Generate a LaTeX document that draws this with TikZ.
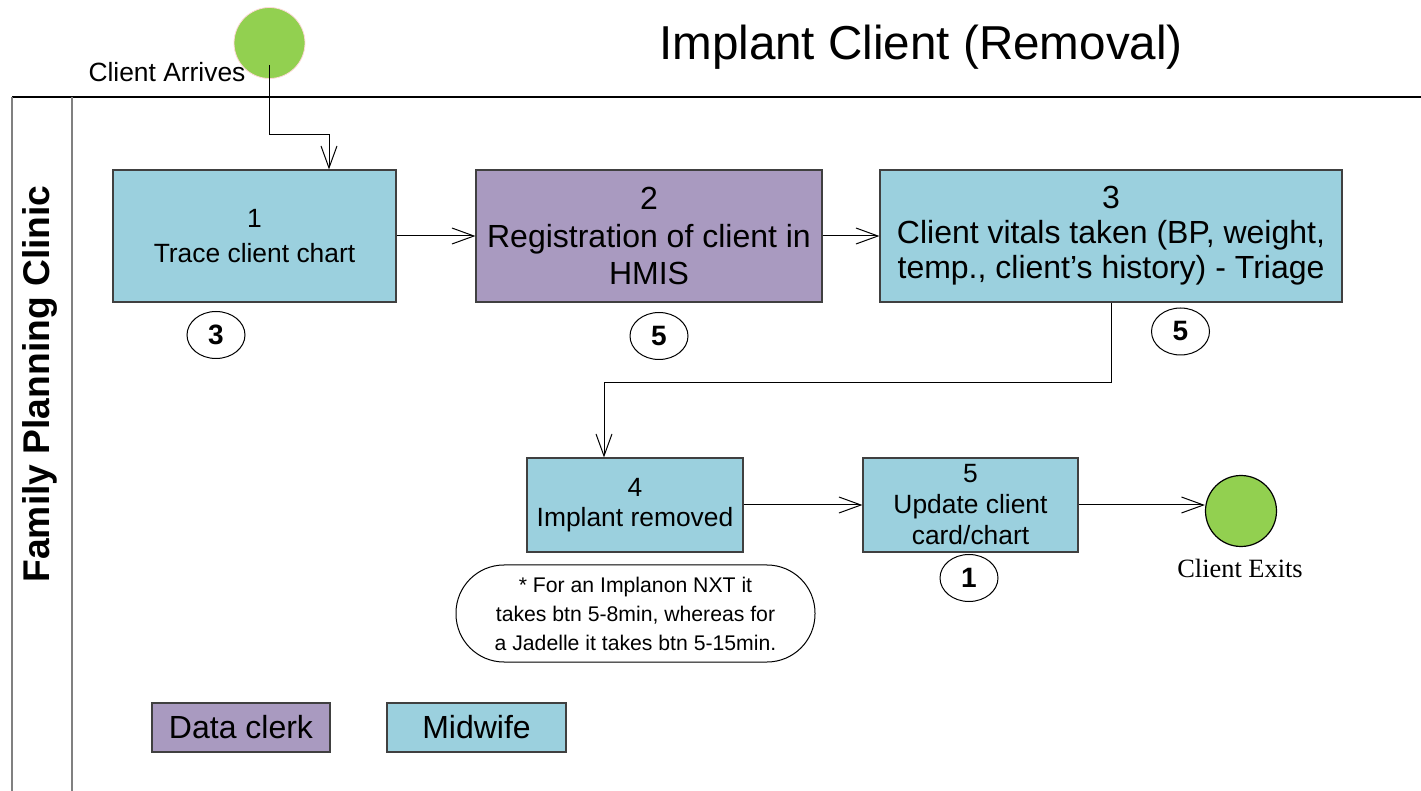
\documentclass[tikz,border=0pt]{standalone}
\usepackage{fontspec}
\setmainfont{Liberation Sans}
\newfontfamily\timesfont{Liberation Serif}
\usetikzlibrary{arrows.meta, shapes.geometric}

\definecolor{midwifeblue}{HTML}{9BD0DE}
\definecolor{clerkpurple}{HTML}{A99AC0}
\definecolor{termgreen}{HTML}{92D050}
\definecolor{laneline}{HTML}{808080}

\tikzset{
    task/.style={draw=black!75, line width=0.6pt, align=center, inner sep=2pt},
    midwife/.style={task, fill=midwifeblue},
    clerk/.style={task, fill=clerkpurple},
    smalltext/.style={font=\fontsize{13.2}{16}\selectfont},
    bigtext/.style={font=\fontsize{16}{18.8}\selectfont},
    badge/.style={ellipse, draw, fill=white, line width=0.5pt, minimum width=29pt,
        minimum height=23.5pt, inner sep=0pt, font=\fontsize{14}{16}\selectfont\bfseries},
    terminal/.style={circle, fill=termgreen, minimum size=35.5pt, inner sep=0pt},
    flow/.style={-{Straight Barb[length=11pt,width=8pt]}, line width=0.5pt},
}

\begin{document}
\begin{tikzpicture}[x=0.5pt, y=-0.5pt]
    \useasboundingbox (0,0) rectangle (1421,791);

    % Swim lane
    \draw[line width=0.6pt] (12,97) -- (1421,97);
    \draw[laneline, line width=0.8pt] (12,97) -- (12,791) (72,97) -- (72,791);
    \node[rotate=90, font=\fontsize{18.6}{22}\selectfont\bfseries] (lane) at (40,384) {Family Planning Clinic};

    % Title
    \node[font=\fontsize{23.8}{28}\selectfont] (title) at (921,47) {Implant Client (Removal)};

    % Start
    \node[terminal, draw=red!15, line width=0.4pt] (arrive) at (269.5,43) {};
    \node[smalltext] (arrivetext) at (167,72) {Client Arrives};

    % Tasks, first row
    \node[midwife, smalltext, font=\fontsize{13.2}{17.5}\selectfont, minimum width=141.5pt, minimum height=66pt] (box1) at (254.5,236) {1\\Trace client chart};
    \node[clerk, bigtext, minimum width=173pt, minimum height=66pt] (box2) at (649,236) {2\\Registration of client in\\HMIS};
    \node[midwife, bigtext, font=\fontsize{16}{17.5}\selectfont, minimum width=231pt, minimum height=66pt] (box3) at (1111,236) {3\\Client vitals taken (BP, weight,\\temp., client’s history) - Triage};

    % Tasks, second row
    \node[midwife, smalltext, font=\fontsize{13.2}{15}\selectfont, minimum width=108pt, minimum height=47pt] (box4) at (635,505) {4\\Implant removed};
    \node[midwife, smalltext, font=\fontsize{13.2}{15.5}\selectfont, minimum width=107.5pt, minimum height=47pt] (box5) at (970.5,505) {5\\Update client\\card/chart};

    % Minutes
    \foreach \name/\x/\y/\n in {badgeA/216/335/3, badgeB/659/336/5, badgeC/1180.5/331.5/5, badgeD/969/578/1}{
        \node[badge] (\name) at (\x,\y) {\n};
    }

    % Note
    \node[draw, line width=0.5pt, fill=white, rounded corners=24pt, minimum width=179.5pt, minimum height=48.5pt,
        align=center, font=\fontsize{10.6}{14.5}\selectfont] (note) at (635.5,613.5)
        {* For an Implanon NXT it\\takes btn 5-8min, whereas for\\a Jadelle it takes btn 5-15min.};

    % End
    \node[terminal, draw, line width=0.6pt] (exit) at (1241,511) {};
    \node[font=\timesfont\fontsize{13.2}{16}\selectfont] (exittext) at (1240,568) {Client Exits};

    % Connectors
    \draw[flow] ([yshift=7pt]arrive.south) -- ++(0,70) -| ([xshift=37.25pt]box1.north);
    \draw[flow] (box1) -- (box2);
    \draw[flow] (box2) -- (box3);
    \draw[flow] (box3.south) -- ++(0,80) -| ([xshift=-15.5pt]box4.north);
    \draw[flow] (box4) -- (box5);
    \draw[flow] (box5.east) -- (box5.east -| exit.west);

    % Legend
    \node[clerk, bigtext, minimum width=89pt, minimum height=24.5pt] (legclerk) at (241,727.5) {Data clerk};
    \node[midwife, bigtext, minimum width=89.5pt, minimum height=24.5pt] (legmidwife) at (476.5,727.5) {Midwife};

\end{tikzpicture}
\end{document}
